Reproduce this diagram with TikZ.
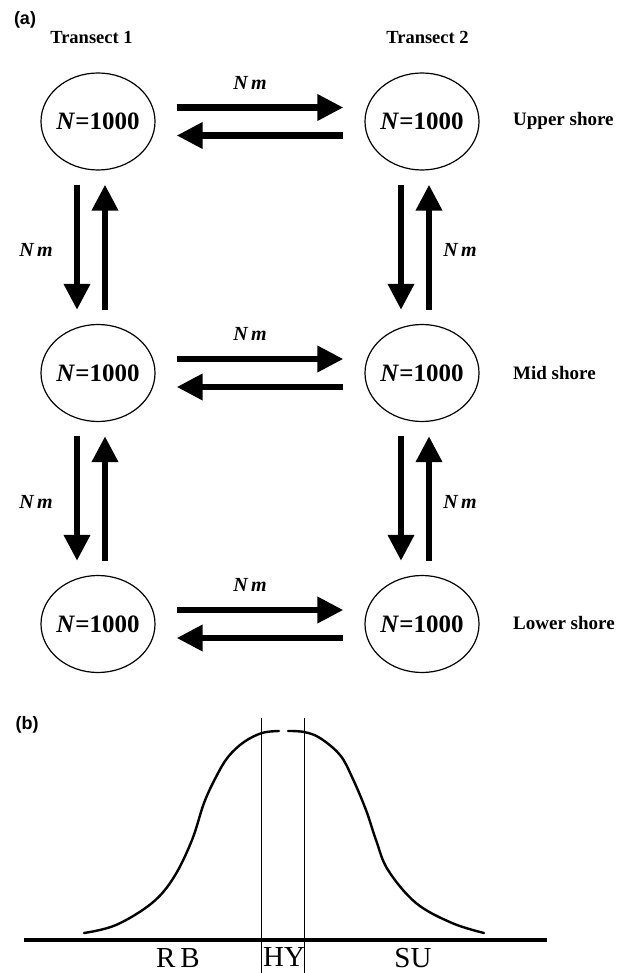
\documentclass[tikz,border=0pt]{standalone}
\usepackage{fontspec}
\setmainfont{Liberation Serif}
\newfontfamily\hsans{Liberation Sans}
\usetikzlibrary{shapes.geometric,arrows.meta,calc}
\begin{document}
\begin{tikzpicture}[x=1pt,y=-1pt,
 pop/.style={draw, ellipse, line width=1.2pt, minimum width=114pt, minimum height=97pt, inner sep=0pt,
   font=\fontsize{25}{28}\selectfont\bfseries},
 flow/.style={line width=6.5pt, -{Triangle[length=26pt,width=25pt]}},
 nm/.style={inner sep=0pt, font=\fontsize{20}{24}\selectfont\bfseries\itshape},
 hdr/.style={inner sep=0pt, font=\fontsize{18.5}{22}\selectfont\bfseries},
 zone/.style={anchor=west, inner sep=0pt, font=\fontsize{19}{22}\selectfont\bfseries},
 panel/.style={inner sep=0pt, font=\fontsize{18}{20}\selectfont\hsans\bfseries},
 zlab/.style={inner sep=0pt, font=\fontsize{29}{32}\selectfont},
 curve/.style={line width=2.4pt, line cap=round, line join=round}]
\useasboundingbox (0,0) rectangle (626,973);

% panel labels
\node[panel] (pa) at (25,20) {(a)};
\node[panel] (pb) at (27,725) {(b)};

% headers
\node[hdr] (t1) at (91.5,37) {Transect 1};
\node[hdr] (t2) at (427.5,37) {Transect 2};

% populations
\node[pop] (u1) at (98,121.5) {\makebox[0pt]{\textit{N}=1000}};
\node[pop] (u2) at (422,121.5) {\makebox[0pt]{\textit{N}=1000}};
\node[pop] (m1) at (98,373) {\makebox[0pt]{\textit{N}=1000}};
\node[pop] (m2) at (422,373) {\makebox[0pt]{\textit{N}=1000}};
\node[pop] (l1) at (98,624) {\makebox[0pt]{\textit{N}=1000}};
\node[pop] (l2) at (422,624) {\makebox[0pt]{\textit{N}=1000}};

% zone labels
\node[zone] (zu) at (513,121) {Upper shore};
\node[zone] (zm) at (513,373) {Mid shore};
\node[zone] (zl) at (513,623) {Lower shore};

% horizontal flows
\foreach \a/\b in {u1/u2, m1/m2, l1/l2}{
  \draw[flow] ($(\a.east)+(21,-14)$) -- ($(\b.west)+(-21,-14)$);
  \draw[flow] ($(\b.west)+(-21,14)$) -- ($(\a.east)+(21,14)$);
}
% vertical flows
\foreach \a/\b in {u1/m1, m1/l1, u2/m2, m2/l2}{
  \draw[flow] ($(\a.south)+(-21,14)$) -- ($(\b.north)+(-21,-14)$);
  \draw[flow] ($(\b.north)+(7,-14)$) -- ($(\a.south)+(7,14)$);
}

% Nm labels
\node[nm] (nh1) at (250,83) {N\,m};
\node[nm] (nh2) at (250,334) {N\,m};
\node[nm] (nh3) at (250,585) {N\,m};
\node[nm] (nv1) at (36,250) {N\,m};
\node[nm] (nv2) at (36,502) {N\,m};
\node[nm] (nv3) at (460,250) {N\,m};
\node[nm] (nv4) at (460,502) {N\,m};

% panel (b)
\draw[line width=3.2pt] (24,940) -- (547,940);
\draw[line width=1pt] (261,718) -- (261,973);
\draw[line width=1pt] (304,718) -- (304,973);
\draw[curve] plot[smooth, tension=0.6] coordinates {(84,933) (116,925) (152,903) (174,877) (192,840) (204,803) (216,777) (228,757) (244,742) (262,733) (279,731)};
\draw[curve] plot[smooth, tension=0.6] coordinates {(288,731) (304,732) (320,738) (340,755) (352,777) (366,810) (376,840) (388,870) (416,903) (452,923) (484,933)};

\node[zlab] (rb) at (178,958) {R\,B};
\node[zlab] (hy) at (284,957) {HY};
\node[zlab] (su) at (413,958) {SU};
\end{tikzpicture}
\end{document}
